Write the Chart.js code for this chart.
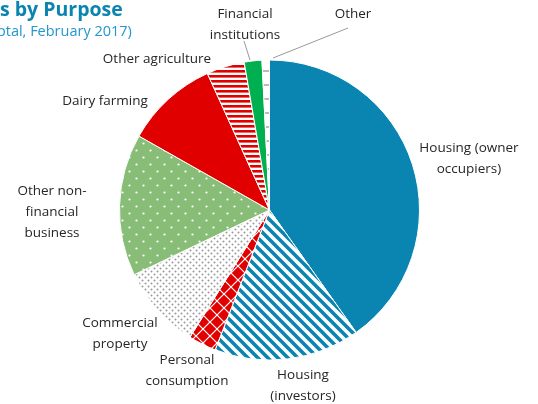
<!DOCTYPE html>
<html>
<head>
<meta charset="utf-8">
<script src="https://cdn.jsdelivr.net/npm/chart.js@4"></script>
<style>
  body { margin: 0; background: #fff; }
  #wrap { width: 538px; height: 404px; position: relative; }
</style>
</head>
<body>
<div id="wrap"><canvas id="loans" width="538" height="404"></canvas></div>
<script>
// share of total (%)
const categories = ['Housing (owner occupiers)', 'Housing (investors)', 'Personal consumption',
  'Commercial property', 'Other non-financial business', 'Dairy farming',
  'Other agriculture', 'Financial institutions', 'Other'];
const shares = [40.2, 15.7, 3.0, 9.0, 15.3, 10.0, 4.1, 1.9, 0.8];
const labelLines = [['Housing (owner', 'occupiers)'], ['Housing', '(investors)'], ['Personal', 'consumption'],
  ['Commercial', 'property'], ['Other non-', 'financial', 'business'], ['Dairy farming'],
  ['Other agriculture'], ['Financial', 'institutions'], ['Other']];

const BLUE = '#0A84B0', RED = '#E00000', GREEN = '#00B050', LGREEN = '#88BD78';

function tile(w, h, draw) {
  const c = document.createElement('canvas');
  c.width = w; c.height = h;
  const g = c.getContext('2d');
  draw(g);
  return g.createPattern(c, 'repeat');
}

const investorsPat = tile(10, 10, g => {
  g.fillStyle = '#fff'; g.fillRect(0, 0, 10, 10);
  g.strokeStyle = BLUE; g.lineWidth = 3.6;
  g.beginPath();
  g.moveTo(-2, -2); g.lineTo(12, 12);
  g.moveTo(-2, 8); g.lineTo(2, 12);
  g.moveTo(8, -2); g.lineTo(12, 2);
  g.stroke();
});
const personalPat = tile(14, 14, g => {
  g.fillStyle = RED; g.fillRect(0, 0, 14, 14);
  g.strokeStyle = '#fff'; g.lineWidth = 1.2;
  g.beginPath();
  g.moveTo(0, 0); g.lineTo(14, 14);
  g.moveTo(14, 0); g.lineTo(0, 14);
  g.stroke();
});
const commercialPat = tile(6, 6, g => {
  g.fillStyle = '#fff'; g.fillRect(0, 0, 6, 6);
  g.fillStyle = '#999';
  g.beginPath(); g.arc(1.5, 1.5, 1, 0, Math.PI * 2); g.fill();
  g.beginPath(); g.arc(4.5, 4.5, 1, 0, Math.PI * 2); g.fill();
});
const otherBizPat = tile(14, 14, g => {
  g.fillStyle = LGREEN; g.fillRect(0, 0, 14, 14);
  g.fillStyle = '#fff';
  g.beginPath(); g.arc(3.5, 3.5, 1.1, 0, Math.PI * 2); g.fill();
  g.beginPath(); g.arc(10.5, 10.5, 1.1, 0, Math.PI * 2); g.fill();
});
const agriPat = tile(5, 5, g => {
  g.fillStyle = '#fff'; g.fillRect(0, 0, 5, 5);
  g.fillStyle = RED; g.fillRect(0, 0, 5, 2.6);
});
const otherPat = tile(6, 14, g => {
  g.fillStyle = '#fff'; g.fillRect(0, 0, 6, 14);
  g.fillStyle = '#bbb'; g.fillRect(0, 0, 6, 2);
});

const fills = [BLUE, investorsPat, personalPat, commercialPat, otherBizPat, RED, agriPat, GREEN, otherPat];

// label anchors (centre of text block)
const labelPos = [[469, 159], [303, 386], [187, 371], [120, 334], [52, 212], [105, 101], [157, 59], [245, 25], [353, 14]];

const textPlugin = {
  id: 'textPlugin',
  afterDraw(chart) {
    const ctx = chart.ctx;
    ctx.save();
    // title, cut off at left like the original
    ctx.textBaseline = 'middle';
    ctx.textAlign = 'left';
    ctx.fillStyle = BLUE;
    ctx.font = 'bold 19.5px "Open Sans"';
    ctx.fillText('s by Purpose', 0, 10);
    ctx.fillStyle = '#2496CC';
    ctx.font = '14.5px "Open Sans"';
    ctx.fillText('otal, February 2017)', -3, 32);

    // leader lines
    ctx.strokeStyle = '#999';
    ctx.lineWidth = 1;
    ctx.beginPath();
    ctx.moveTo(244, 41); ctx.lineTo(250, 60);
    ctx.moveTo(348, 28); ctx.lineTo(273, 58);
    ctx.stroke();

    ctx.fillStyle = '#262626';
    ctx.font = '13.5px "Open Sans"';
    ctx.textAlign = 'center';
    const lh = 21;
    labelLines.forEach((lines, i) => {
      const [x, y] = labelPos[i];
      const y0 = y - (lines.length - 1) * lh / 2;
      lines.forEach((t, j) => ctx.fillText(t, x, y0 + j * lh));
    });
    ctx.restore();
  }
};

new Chart(document.getElementById('loans'), {
  type: 'pie',
  data: {
    labels: categories,
    datasets: [{
      data: shares,
      backgroundColor: fills,
      borderColor: '#fff',
      borderWidth: 1
    }]
  },
  options: {
    responsive: false,
    animation: false,
    layout: { padding: { left: 119, right: 118, top: 59, bottom: 43 } },
    plugins: {
      legend: { display: false },
      tooltip: { enabled: false }
    }
  },
  plugins: [textPlugin]
});
</script>
</body>
</html>
